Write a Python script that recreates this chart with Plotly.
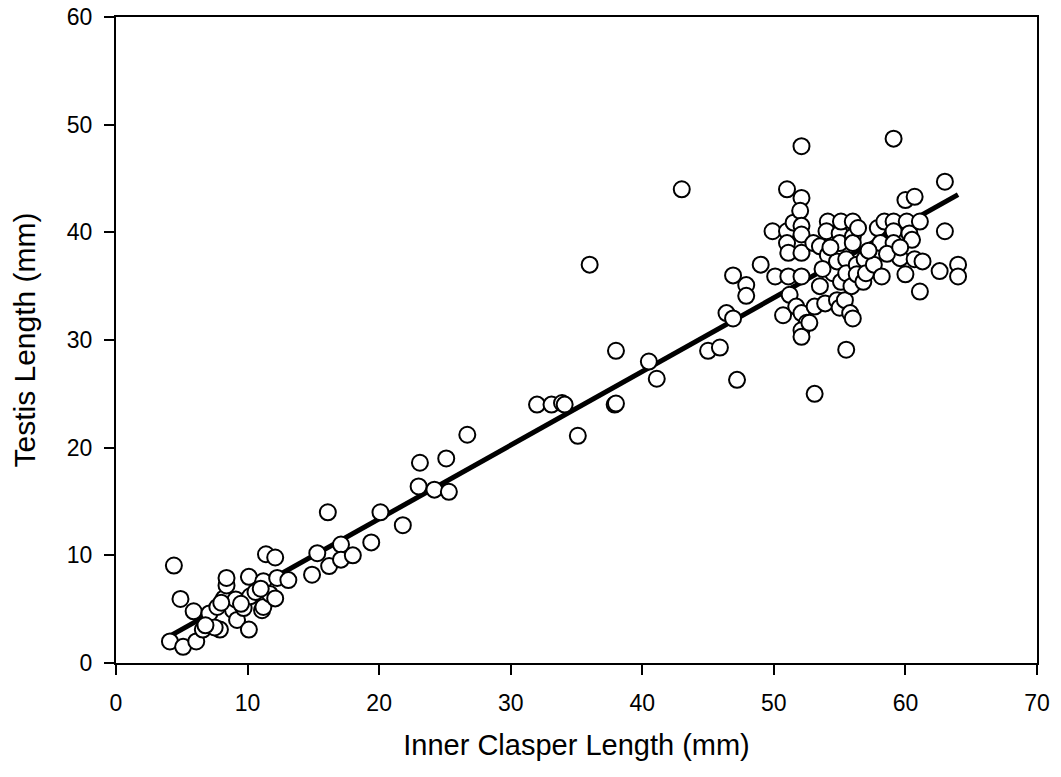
import plotly.graph_objects as go

# inner clasper length (mm) vs testis length (mm)
clasper_small = [4.1, 5.1, 6.1, 4.4, 4.9, 5.9, 6.6, 7.1, 7.7, 7.9, 8.2, 8.4, 8.4, 8.9, 9.1,
                 9.2, 9.7, 10.1, 10.2, 10.1, 11.1, 11.2, 11.2, 11.4, 11.7, 12.1, 12.1, 12.25,
                 13.1, 7.5, 8.0, 9.5, 10.6, 11.0, 6.8, 15.3, 14.9, 16.1, 16.2, 17.1, 17.1,
                 18.0, 19.4, 20.1, 21.8, 23.0, 23.1, 24.2, 25.1, 25.3, 26.7]
testis_small = [2.0, 1.5, 2.0, 9.05, 5.95, 4.8, 3.1, 4.6, 5.2, 3.1, 6.0, 7.2, 7.9, 4.9, 5.9,
                4.0, 5.1, 8.0, 6.2, 3.1, 4.9, 5.2, 7.6, 10.1, 6.4, 9.8, 6.0, 7.9,
                7.7, 3.3, 5.6, 5.5, 6.6, 6.9, 3.5, 10.2, 8.2, 14.0, 9.0, 11.0, 9.6,
                10.0, 11.2, 14.0, 12.8, 16.4, 18.6, 16.1, 19.0, 15.9, 21.2]

clasper_mid = [32.0, 33.1, 33.9, 34.1, 35.1, 36.0, 37.9, 38.0, 38.0, 40.5, 41.1, 43.0, 45.0,
               45.9, 46.4, 46.9, 46.9, 47.2, 47.9, 47.9, 49.0]
testis_mid = [24.0, 24.0, 24.15, 24.0, 21.1, 37.0, 24.0, 24.1, 29.0, 28.0, 26.4, 44.0, 29.0,
              29.3, 32.5, 32.0, 36.0, 26.3, 35.1, 34.1, 37.0]

clasper_large = [49.9, 50.1, 50.7, 51.0, 51.0, 51.5, 51.0, 51.1, 51.1, 51.2, 51.7, 52.1, 52.1,
                 52.0, 52.1, 52.1, 52.1, 52.1, 52.1, 52.5, 52.1, 52.1, 52.7, 53.0, 53.1, 53.1,
                 53.5, 53.5, 53.9, 54.1, 54.0, 54.1, 54.5, 54.8, 54.8, 55.0, 55.0, 55.0, 55.1,
                 55.1, 55.4, 55.5, 55.5, 55.5, 55.8, 55.9, 56.0, 56.0, 56.0, 56.0, 56.3, 56.3,
                 56.4, 56.8, 56.9, 57.0, 57.6, 57.9, 58.1, 58.2, 58.4, 59.1, 59.1, 59.1, 59.1,
                 59.6, 60.0, 60.0, 60.1, 60.3, 60.5, 60.7, 60.7, 61.1, 61.1, 61.3, 62.6, 63.0,
                 63.0, 64.0, 64.0, 53.7, 54.3, 57.2, 58.6, 59.6]
testis_large = [40.1, 35.9, 32.3, 44.0, 40.1, 40.9, 39.0, 38.1, 35.9, 34.2, 33.1, 48.0, 43.2,
                42.0, 40.6, 39.8, 38.1, 35.9, 32.5, 31.6, 30.9, 30.3, 31.6, 39.0, 33.1, 25.0,
                38.7, 35.0, 33.4, 41.0, 40.1, 37.9, 36.2, 37.3, 33.7, 39.9, 39.0, 33.0, 41.0,
                35.4, 33.7, 37.5, 36.2, 29.1, 32.5, 35.0, 41.0, 39.6, 39.0, 32.0, 37.0, 36.1,
                40.4, 35.4, 37.5, 36.2, 37.0, 40.4, 39.0, 35.9, 41.0, 41.0, 40.1, 39.0, 48.7,
                37.6, 43.0, 36.1, 41.0, 39.9, 39.3, 43.3, 37.5, 41.0, 34.5, 37.3, 36.4, 44.7,
                40.1, 37.0, 35.9, 36.6, 38.6, 38.3, 38.0, 38.6]

clasper = clasper_small + clasper_mid + clasper_large
testis = testis_small + testis_mid + testis_large

# fitted regression line end points
fit_x = [3.95, 64.0]
fit_y = [2.4, 43.5]

font = 'Arial, "Liberation Sans", sans-serif'

fig = go.Figure()
fig.add_trace(go.Scatter(x=fit_x, y=fit_y, mode='lines',
                         line=dict(color='black', width=5), showlegend=False))
fig.add_trace(go.Scatter(x=clasper, y=testis, mode='markers',
                         marker=dict(symbol='circle', size=16, color='white',
                                     line=dict(color='black', width=2)),
                         showlegend=False))

axis_style = dict(showgrid=False, zeroline=False, showline=True, linecolor='black', linewidth=2,
                  mirror=True, ticks='outside', ticklen=10, tickwidth=2, tickcolor='black',
                  automargin=False, tickfont=dict(family=font, size=23, color='black'))

fig.update_layout(
    width=1061, height=777,
    paper_bgcolor='white', plot_bgcolor='white',
    margin=dict(l=116, r=24, t=17, b=114),
    font=dict(family=font, color='black'),
    xaxis=dict(range=[0, 70], dtick=10, ticklabelstandoff=8,
               title=dict(text='Inner Clasper Length (mm)', font=dict(size=29), standoff=20),
               **axis_style),
    yaxis=dict(range=[0, 60], dtick=10, ticklabelstandoff=7,
               title=dict(text='Testis Length (mm)', font=dict(size=30), standoff=22),
               **axis_style),
)

fig.write_html("out.html", config={'displayModeBar': False},
               post_script="document.body.style.margin='0';")
